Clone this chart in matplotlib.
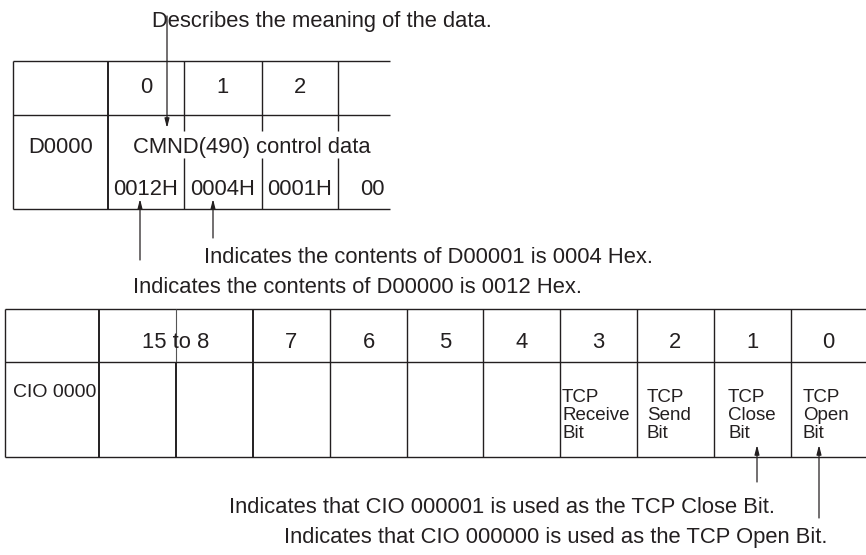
import matplotlib
matplotlib.use("Agg")
from matplotlib import pyplot as plt

plt.rcParams['font.family'] = ['Liberation Sans', 'DejaVu Sans']

INK = '#231f20'

# --- content -------------------------------------------------------------
top_header = ["0", "1", "2"]
top_row_label = "D0000"
top_merged_text = "CMND(490) control data"
top_values = ["0012H", "0004H", "0001H", "00"]
top_note = "Describes the meaning of the data."
word_notes = ["Indicates the contents of D00001 is 0004 Hex.",
              "Indicates the contents of D00000 is 0012 Hex."]

bit_header = ["15 to 8", "7", "6", "5", "4", "3", "2", "1", "0"]
bit_row_label = "CIO 0000"
bit_labels = ["", "", "", "", "", "TCP\nReceive\nBit", "TCP\nSend\nBit",
              "TCP\nClose\nBit", "TCP\nOpen\nBit"]
bit_notes = ["Indicates that CIO 000001 is used as the TCP Close Bit.",
             "Indicates that CIO 000000 is used as the TCP Open Bit."]

# --- layout (pixel coordinates, y grows downwards) -------------------------
top_cols = [13, 108, 184, 262, 338]
top_rows = [61, 115, 209]
bit_cols = [5, 99, 176, 253, 330, 407, 483, 560, 637, 714, 791]
bit_rows = [309, 362, 457]
# small left padding of each bit description inside its cell
bit_pad = [2, 2, 2, 2, 2, 2, 10, 14, 12]

fig = plt.figure(figsize=(8.66, 5.55), dpi=100)
ax = fig.add_axes([0, 0, 1, 1])
ax.set_xlim(0, 866)
ax.set_ylim(555, 0)
ax.axis('off')

FS = 15.8
FS_SMALL = 13.5


def hline(y, x0, x1, lw=1.0):
    ax.plot([x0, x1], [y, y], color=INK, lw=lw, solid_capstyle='butt')


def vline(x, y0, y1, lw=1.0, color=INK):
    ax.plot([x, x], [y0, y1], color=color, lw=lw, solid_capstyle='butt')


def arrow(x, y_from, y_to):
    ax.annotate('', xy=(x, y_to), xytext=(x, y_from),
                arrowprops=dict(arrowstyle='-|>,head_length=0.55,head_width=0.14',
                                color=INK, lw=0.9, shrinkA=0, shrinkB=0))


def label(x, y, s, ha='center', size=FS):
    ax.text(x, y, s, ha=ha, va='baseline', fontsize=size, color=INK)


# ---------------- top table ----------------
for y in top_rows:
    hline(y, top_cols[0], 390)
vline(top_cols[0], top_rows[0], top_rows[-1])
vline(top_cols[1], top_rows[0], top_rows[-1], lw=1.4)
for x in top_cols[2:]:
    vline(x, top_rows[0], 131)
    vline(x, 158, top_rows[-1])

for i, s in enumerate(top_header):
    label((top_cols[i + 1] + top_cols[i + 2]) / 2, 93, s)
label((top_cols[0] + top_cols[1]) / 2, 153, top_row_label)
label(252, 153, top_merged_text)

val_x = [(top_cols[i + 1] + top_cols[i + 2]) / 2 for i in range(3)] + [372]
for x, s in zip(val_x, top_values):
    label(x, 195, s)

label(152, 27, top_note, ha='left')
arrow(167, 16, 128)

arrow(140, 260, 199)
arrow(213, 238, 199)
label(204, 263, word_notes[0], ha='left')
label(133, 293, word_notes[1], ha='left')

# ---------------- bit table ----------------
for y in bit_rows:
    hline(y, bit_cols[0], 866)
vline(bit_cols[0], bit_rows[0], bit_rows[-1])
vline(bit_cols[1], bit_rows[0], bit_rows[-1], lw=1.4)
vline(bit_cols[2], bit_rows[0], bit_rows[1], lw=0.8, color='#555555')
vline(bit_cols[2], bit_rows[1], bit_rows[-1], lw=1.4)
vline(bit_cols[3], bit_rows[0], bit_rows[-1], lw=1.4)
for x in bit_cols[4:]:
    vline(x, bit_rows[0], bit_rows[-1])

header_x = [(bit_cols[1] + bit_cols[3]) / 2]
header_x += [(bit_cols[i] + bit_cols[i + 1]) / 2 for i in range(3, len(bit_cols) - 1)]
header_x += [(bit_cols[-1] + 866) / 2]
for x, s in zip(header_x, bit_header):
    label(x, 348, s)

label(13, 397, bit_row_label, ha='left', size=14)

left_x = [bit_cols[1]] + bit_cols[3:]
for x, pad, s in zip(left_x, bit_pad, bit_labels):
    for j, line in enumerate(s.split("\n") if s else []):
        label(x + pad, 402 + 18 * j, line, ha='left', size=FS_SMALL)

arrow(757, 482, 445)
arrow(819, 518, 445)
label(775, 513, bit_notes[0], ha='right')
label(827, 543, bit_notes[1], ha='right')

fig.savefig("out.png", dpi=100)
